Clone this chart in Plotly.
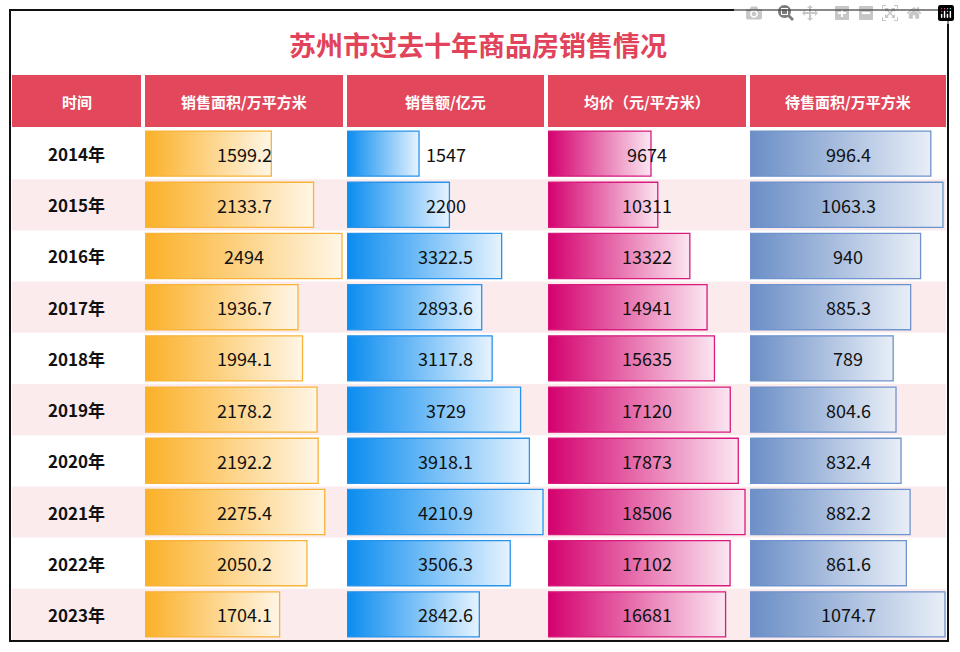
import plotly.graph_objects as go

years = ["2014年", "2015年", "2016年", "2017年", "2018年", "2019年", "2020年", "2021年", "2022年", "2023年"]
area_sold = [1599.2, 2133.7, 2494, 1936.7, 1994.1, 2178.2, 2192.2, 2275.4, 2050.2, 1704.1]
sales = [1547, 2200, 3322.5, 2893.6, 3117.8, 3729, 3918.1, 4210.9, 3506.3, 2842.6]
avg_price = [9674, 10311, 13322, 14941, 15635, 17120, 17873, 18506, 17102, 16681]
area_pending = [996.4, 1063.3, 940, 885.3, 789, 804.6, 832.4, 882.2, 861.6, 1074.7]
headers = ["时间", "销售面积/万平方米", "销售额/亿元", "均价（元/平方米）", "待售面积/万平方米"]
title = "苏州市过去十年商品房销售情况"

W, H = 960, 652
FONT = "Noto Sans CJK SC"
RED = "#e2475c"

def px(x):
    return x / W

def py(y):
    return 1 - y / H

cols = [(145, 343), (347, 544), (548, 746), (750, 946)]
series = [area_sold, sales, avg_price, area_pending]
styles = [
    ("#fbb027", "#fff6e6", "#f7b43a"),
    ("#0a8cef", "#e6f3ff", "#2a93ea"),
    ("#d4006e", "#fbe6f1", "#d81b7c"),
    ("#6a8ec6", "#e8eef7", "#6f93cc"),
]
body_top, body_bot = 128, 640
n = len(years)

fig = go.Figure()
layout = dict(
    width=W, height=H, margin=dict(l=0, r=0, t=0, b=0),
    paper_bgcolor="white", plot_bgcolor="rgba(0,0,0,0)",
    showlegend=False, font=dict(family=FONT, color="#111"),
)
shapes, annotations = [], []


def label(x, y, text, size, color, xref="paper", yref="paper"):
    annotations.append(dict(x=x, y=y, xref=xref, yref=yref, text=text, showarrow=False,
                            xanchor="center", yanchor="middle",
                            font=dict(size=size, color=color, family=FONT)))


# alternating row bands
for i in range(n):
    if i % 2 == 1:
        y0 = body_top + (body_bot - body_top) * i / n
        y1 = body_top + (body_bot - body_top) * (i + 1) / n
        shapes.append(dict(type="rect", xref="paper", yref="paper", x0=px(12), x1=px(946),
                           y0=py(y1), y1=py(y0), fillcolor="#fcebed", line_width=0, layer="below"))

# header cells
hx = [(12, 141)] + cols
for (a, b), h in zip(hx, headers):
    shapes.append(dict(type="rect", xref="paper", yref="paper", x0=px(a), x1=px(b),
                       y0=py(127), y1=py(75), fillcolor=RED, line_width=0))
    label(px((a + b) / 2), py(101), f"<b>{h}</b>", 15, "white")

label(px(478), py(44), f"<b>{title}</b>", 27, "#e0435a")

for i, yr in enumerate(years):
    yc = body_top + (body_bot - body_top) * (i + 0.5) / n
    label(px(76), py(yc), f"<b>{yr}</b>", 17, "#111")

for k, ((a, b), vals, (c0, c1, lc)) in enumerate(zip(cols, series, styles)):
    xa = "x" if k == 0 else f"x{k + 1}"
    ya = "y" if k == 0 else f"y{k + 1}"
    for i, v in enumerate(vals):
        fig.add_trace(go.Scatter(
            x=[0, v, v, 0, 0], y=[i - 0.44, i - 0.44, i + 0.44, i + 0.44, i - 0.44],
            mode="lines", fill="toself", line=dict(color=lc, width=1.3),
            fillgradient=dict(type="horizontal", colorscale=[[0, c0], [1, c1]]),
            hoverinfo="skip", xaxis=xa, yaxis=ya))
        label(0.5, i, f"{v:g}", 18, "#111", xref=f"{xa} domain", yref=ya)
    key = "" if k == 0 else str(k + 1)
    layout[f"xaxis{key}"] = dict(domain=[px(a), px(b)], range=[0, max(vals) * 1.005],
                                 visible=False, anchor=ya)
    layout[f"yaxis{key}"] = dict(domain=[py(body_bot), py(body_top)], range=[n - 0.5, -0.5],
                                 visible=False, anchor=xa)

shapes.append(dict(type="rect", xref="paper", yref="paper", x0=px(10), x1=px(948),
                   y0=py(641), y1=py(10), line=dict(color="#111", width=2)))

layout["shapes"] = shapes
layout["annotations"] = annotations
fig.update_layout(**layout)
fig.write_html("out.html", post_script="document.body.style.margin='0';")
